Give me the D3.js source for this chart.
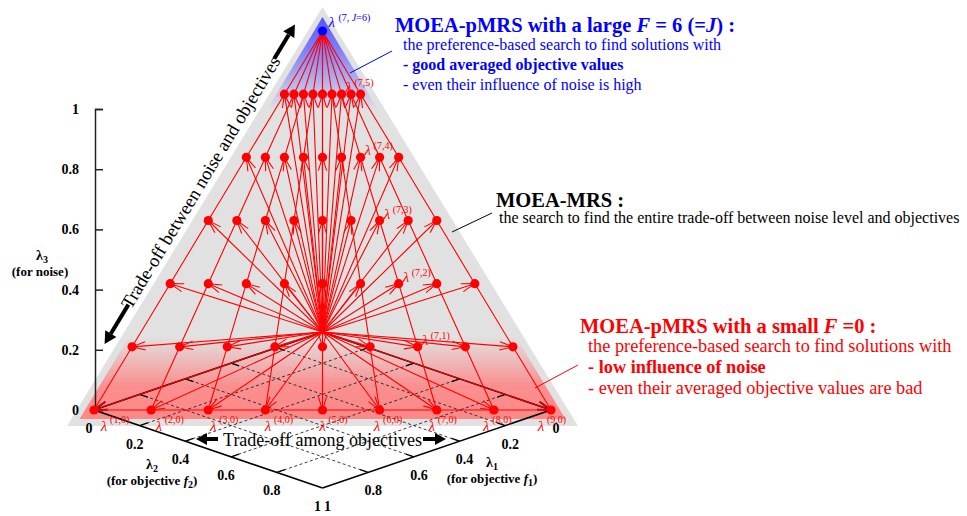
<!DOCTYPE html>
<html>
<head>
<meta charset="utf-8">
<script src="https://cdn.jsdelivr.net/npm/d3@7"></script>
<style>
  body { margin: 0; background: #fff; }
  svg { display: block; font-family: "Liberation Serif", "Times New Roman", serif; }
</style>
</head>
<body>
<div id="container"></div>
<script>
/* CONSTANTS AND GLOBALS */
const width = 967,
  height = 516;

/* DATA */
// lambda_3 (noise weight) for each level j = 0..J (J = 6)
const lambda3Levels = [0, 1/6, 2/6, 3/6, 4/6, 5/6, 1];
// share of lambda_2 inside (lambda_1 + lambda_2) for column i = 1..9
const columnShares = [0, 0.125, 0.25, 0.375, 0.5, 0.625, 0.75, 0.875, 1];
const columnIds = [1, 2, 3, 4, 5, 6, 7, 8, 9];
const axisTicks = [0, 0.2, 0.4, 0.6, 0.8, 1];
const gridLines = [0.2, 0.4, 0.6, 0.8];
const labelledColumn = 7;
const apexColumn = 7;

// weight vectors lambda(i, j)
const points = [];
lambda3Levels.forEach((l3, j) => {
  if (j === lambda3Levels.length - 1) {
    points.push({ i: apexColumn, j, l1: 0, l2: 0, l3, apex: true });
  } else {
    columnShares.forEach((s, k) => {
      points.push({ i: columnIds[k], j, l1: (1 - l3) * (1 - s), l2: (1 - l3) * s, l3, apex: false });
    });
  }
});

/* SCALES (orthographic view of the lambda space) */
const xScale = d3.scaleLinear().domain([-1, 1]).range([94, 551]);
const zScale = d3.scaleLinear().domain([0, 1]).range([332, 31]);
const dScale = d3.scaleLinear().domain([0, 2]).range([0, 156]);
const proj = (l1, l2, l3) => [xScale(l2 - l1), zScale(l3) + dScale(l1 + l2)];
points.forEach(p => { [p.x, p.y] = proj(p.l1, p.l2, p.l3); });

const C = proj(0, 0, 0), L = proj(1, 0, 0), R = proj(0, 1, 0), A = proj(0, 0, 1), F = proj(1, 1, 0);
const slope = (A[0] - L[0]) / (L[1] - A[1]);
const leftEdge = y => L[0] + (L[1] - y) * slope;
const rightEdge = y => R[0] - (R[1] - y) * slope;

const red = "#ff0000", blue = "#0000ff";

const svg = d3.select("#container")
  .append("svg")
  .attr("width", width)
  .attr("height", height);

const defs = svg.append("defs");
const pinkGrad = defs.append("linearGradient").attr("id", "pinkGrad")
  .attr("x1", 0).attr("y1", 0).attr("x2", 0).attr("y2", 1);
pinkGrad.selectAll("stop").data([[0, 0], [0.6, 0.85], [1, 0.92]]).join("stop")
  .attr("offset", d => d[0]).attr("stop-color", "rgb(255,128,128)").attr("stop-opacity", d => d[1]);
const blueGrad = defs.append("linearGradient").attr("id", "blueGrad")
  .attr("x1", 0).attr("y1", 0).attr("x2", 0).attr("y2", 1);
blueGrad.selectAll("stop").data([[0, 1], [0.35, 0.7], [1, 0]]).join("stop")
  .attr("offset", d => d[0]).attr("stop-color", "rgb(85,85,255)").attr("stop-opacity", d => d[1]);

/* BACKGROUND REGIONS */
svg.append("path")
  .attr("d", d3.line()([[L[0] - 27, L[1] + 16], [R[0] + 27, R[1] + 16], [A[0], A[1] - 24]]) + "Z")
  .attr("fill", "#e1e1e1");

const pinkTop = 337, pinkBottom = 419;
svg.append("path")
  .attr("d", d3.line()([[leftEdge(pinkTop) - 9, pinkTop], [rightEdge(pinkTop) + 9, pinkTop],
    [rightEdge(pinkBottom) + 9, pinkBottom], [leftEdge(pinkBottom) - 9, pinkBottom]]) + "Z")
  .attr("fill", "url(#pinkGrad)");

const blueBottom = 110;
svg.append("path")
  .attr("d", d3.line()([[A[0], A[1] - 14], [rightEdge(blueBottom) + 8, blueBottom], [leftEdge(blueBottom) - 8, blueBottom]]) + "Z")
  .attr("fill", "url(#blueGrad)");

/* BASE GRID (lambda_1, lambda_2 plane) */
const base = svg.append("g");
gridLines.forEach(g => {
  [[proj(g, 0, 0), proj(g, 1, 0)], [proj(0, g, 0), proj(1, g, 0)]].forEach(seg => {
    base.append("line")
      .attr("x1", seg[0][0]).attr("y1", seg[0][1]).attr("x2", seg[1][0]).attr("y2", seg[1][1])
      .attr("stroke", "#222").attr("stroke-width", 0.9).attr("stroke-dasharray", "3,2.5");
  });
  // small tics on the four edges
  [[proj(g, 0, 0), proj(g, 0.035, 0)], [proj(0, g, 0), proj(0.035, g, 0)],
   [proj(1, g, 0), proj(0.965, g, 0)], [proj(g, 1, 0), proj(g, 0.965, 0)]].forEach(seg => {
    base.append("line")
      .attr("x1", seg[0][0]).attr("y1", seg[0][1]).attr("x2", seg[1][0]).attr("y2", seg[1][1])
      .attr("stroke", "#000").attr("stroke-width", 1.3);
  });
});
[[L, F], [R, F]].forEach(seg => {
  base.append("line")
    .attr("x1", seg[0][0]).attr("y1", seg[0][1]).attr("x2", seg[1][0]).attr("y2", seg[1][1])
    .attr("stroke", "#000").attr("stroke-width", 1.6);
});

function openArrow(g, from, to, color, sw, len, half) {
  const a = Math.atan2(to[1] - from[1], to[0] - from[0]);
  const h1 = [to[0] - len * Math.cos(a + half), to[1] - len * Math.sin(a + half)];
  const h2 = [to[0] - len * Math.cos(a - half), to[1] - len * Math.sin(a - half)];
  g.append("path")
    .attr("d", `M${from}L${to}M${h1}L${to}L${h2}`)
    .attr("fill", "none").attr("stroke", color).attr("stroke-width", sw);
}
function solidArrow(g, from, to, sw, len, hw) {
  const a = Math.atan2(to[1] - from[1], to[0] - from[0]);
  const bx = to[0] - len * Math.cos(a), by = to[1] - len * Math.sin(a);
  g.append("line").attr("x1", from[0]).attr("y1", from[1]).attr("x2", bx).attr("y2", by)
    .attr("stroke", "#000").attr("stroke-width", sw);
  g.append("path")
    .attr("d", d3.line()([to, [bx + hw * Math.sin(a), by - hw * Math.cos(a)], [bx - hw * Math.sin(a), by + hw * Math.cos(a)]]) + "Z")
    .attr("fill", "#000");
}
openArrow(base, C, L, "#000", 1.6, 14, 0.3);
openArrow(base, C, R, "#000", 1.6, 14, 0.3);

/* LAMBDA_3 AXIS */
const zAxisScale = d3.scaleLinear().domain([0, 1]).range([L[1], L[1] - (zScale(0) - zScale(1))]);
svg.append("g")
  .attr("transform", `translate(${L[0] + 1},0)`)
  .call(d3.axisLeft(zAxisScale).tickValues(axisTicks).tickSizeInner(-8).tickSizeOuter(-8).tickPadding(16).tickFormat(d3.format("~g")))
  .call(g => g.select(".domain").attr("stroke", "#222").attr("stroke-width", 1.5))
  .call(g => g.selectAll(".tick line").attr("stroke", "#222").attr("stroke-width", 1.5))
  .selectAll("text")
  .style("font-family", "Liberation Serif").style("font-size", "14px").style("font-weight", "bold").attr("fill", "#000");

/* BASE AXIS TICK LABELS */
const tickLab = svg.append("g").style("font-size", "14px").style("font-weight", "bold").attr("text-anchor", "middle");
axisTicks.forEach(t => {
  const p2 = proj(1, t, 0);
  tickLab.append("text").attr("x", p2[0] - 5).attr("y", p2[1] + 23).text(d3.format("~g")(t));
  const p1 = proj(t, 1, 0);
  tickLab.append("text").attr("x", p1[0] + 5).attr("y", p1[1] + 23).text(d3.format("~g")(t));
});

/* RED STRUCTURE */
const net = svg.append("g");
const apex = points.find(p => p.apex);
const bottomRow = points.filter(p => p.j === 0);
net.append("line")
  .attr("x1", bottomRow[0].x).attr("y1", bottomRow[0].y)
  .attr("x2", bottomRow[bottomRow.length - 1].x).attr("y2", bottomRow[bottomRow.length - 1].y)
  .attr("stroke", red).attr("stroke-width", 1);
columnIds.forEach(i => {
  const col = points.filter(p => p.i === i && !p.apex).sort((a, b) => a.j - b.j).concat([apex]);
  net.append("path")
    .attr("d", d3.line().x(d => d.x).y(d => d.y)(col))
    .attr("fill", "none").attr("stroke", red).attr("stroke-width", 1.1);
});
points.forEach(p => openArrow(net, C, [p.x, p.y], red, 1.1, 14, 0.3));

net.selectAll("circle")
  .data(points)
  .join("circle")
  .attr("cx", d => d.x).attr("cy", d => d.y).attr("r", 4.6)
  .attr("fill", d => d.apex ? blue : red);

/* LAMBDA LABELS */
const labs = svg.append("g");
bottomRow.forEach(p => {
  const lx = xScale((p.l2 - p.l1) * 0.956);
  labs.append("text").attr("x", lx).attr("y", p.y + 21).attr("text-anchor", "middle")
    .attr("fill", red).style("font-style", "italic").style("font-size", "15px").text("λ");
  labs.append("text").attr("x", lx + 6).attr("y", p.y + 13)
    .attr("fill", red).style("font-size", "10px").text(`(${p.i},${p.j})`);
});
points.filter(p => p.i === labelledColumn && p.j > 0 && !p.apex).forEach(p => {
  labs.append("text").attr("x", p.x + 4).attr("y", p.y - 2)
    .attr("fill", red).style("font-style", "italic").style("font-size", "15px").text("λ");
  labs.append("text").attr("x", p.x + 13).attr("y", p.y - 8)
    .attr("fill", red).style("font-size", "10px").text(`(${p.i},${p.j})`);
});
labs.append("text").attr("x", apex.x + 6).attr("y", apex.y - 4)
  .attr("fill", blue).style("font-style", "italic").style("font-size", "15px").text("λ");
const apexSup = labs.append("text").attr("x", apex.x + 16).attr("y", apex.y - 10)
  .attr("fill", blue).style("font-size", "10px");
apexSup.append("tspan").text(`(${apex.i}, `);
apexSup.append("tspan").style("font-style", "italic").text("J");
apexSup.append("tspan").text(`=${apex.j})`);

/* AXIS TITLES */
function axisTitle(x, y, sub, fsub, x2) {
  const g = svg.append("g").attr("text-anchor", "middle").style("font-weight", "bold").style("font-size", "13px");
  const t = g.append("text").attr("x", x).attr("y", y);
  t.append("tspan").style("font-size", "14px").text("λ");
  t.append("tspan").attr("dy", 3).style("font-size", "10px").text(sub);
  const t2 = g.append("text").attr("x", x2).attr("y", y + 16);
  if (fsub) {
    t2.append("tspan").text("(for objective ");
    t2.append("tspan").style("font-style", "italic").text("f");
    t2.append("tspan").attr("dy", 3).style("font-size", "10px").text(fsub);
    t2.append("tspan").attr("dy", -3).text(")");
  } else {
    t2.text("(for noise)");
  }
}
axisTitle(42, 260, "3", null, 40);
axisTitle(152, 469, "2", "2", 152);
axisTitle(492, 467, "1", "1", 492);

/* TRADE-OFF ANNOTATIONS */
const ux = (A[0] - L[0]), uy = (A[1] - L[1]);
const ul = Math.hypot(ux, uy);
const u = [ux / ul, uy / ul], n = [uy / ul, -ux / ul];
const along = (s, off) => [L[0] + s * u[0] + off * n[0], L[1] + s * u[1] + off * n[1]];
const ang = Math.atan2(u[1], u[0]) * 180 / Math.PI;
const mid = along(250, 20);
svg.append("text")
  .attr("transform", `translate(${mid}) rotate(${ang})`)
  .attr("text-anchor", "middle").style("font-size", "18.5px")
  .text("Trade-off between noise and objectives");
solidArrow(svg, along(108, 25), along(62, 25), 4, 12, 6.5);
solidArrow(svg, along(394, 27), along(434, 27), 4, 12, 6.5);

svg.append("text").attr("x", C[0]).attr("y", 446).attr("text-anchor", "middle")
  .style("font-size", "18px").text("Trade-off among objectives");
solidArrow(svg, [218, 439], [196, 439], 4, 11, 6);
solidArrow(svg, [423, 439], [446, 439], 4, 11, 6);

/* TEXT BLOCKS */
function block(x0, x1, y0, color, titleParts, lines, sizeT, sizeB, gap) {
  const g = svg.append("g").attr("fill", color);
  const t = g.append("text").attr("x", x0).attr("y", y0).style("font-weight", "bold").style("font-size", sizeT + "px");
  titleParts.forEach(d => t.append("tspan").style("font-style", d.it ? "italic" : "normal").text(d.s));
  lines.forEach((d, k) => {
    g.append("text").attr("x", x1).attr("y", y0 + (k + 1) * gap - 2)
      .style("font-size", sizeB + "px").style("font-weight", d.bold ? "bold" : "normal").text(d.s);
  });
}
block(395, 403, 32, blue,
  [{ s: "MOEA-pMRS with a large " }, { s: "F", it: true }, { s: " = 6 (=" }, { s: "J", it: true }, { s: ") :" }],
  [{ s: "the preference-based search to find solutions with" }, { s: "- good averaged objective values", bold: true }, { s: "- even their influence of noise is high" }],
  20.5, 16, 20);
block(496, 499, 207, "#000",
  [{ s: "MOEA-MRS :" }],
  [{ s: "the search to find the entire trade-off between noise level and objectives" }],
  20.5, 16, 18);
block(580, 588, 333, red,
  [{ s: "MOEA-pMRS with a small " }, { s: "F", it: true }, { s: " =0 :" }],
  [{ s: "the preference-based search to find solutions with" }, { s: "- low influence of noise", bold: true }, { s: "- even their averaged objective values are bad" }],
  20.5, 18.3, 21);

// leader lines
[[[350, 73], [392, 51], blue], [[452, 232], [492, 213], "#000"], [[535, 388], [578, 365], red]].forEach(d => {
  svg.append("line").attr("x1", d[0][0]).attr("y1", d[0][1]).attr("x2", d[1][0]).attr("y2", d[1][1])
    .attr("stroke", d[2]).attr("stroke-width", 1);
});
</script>
</body>
</html>
